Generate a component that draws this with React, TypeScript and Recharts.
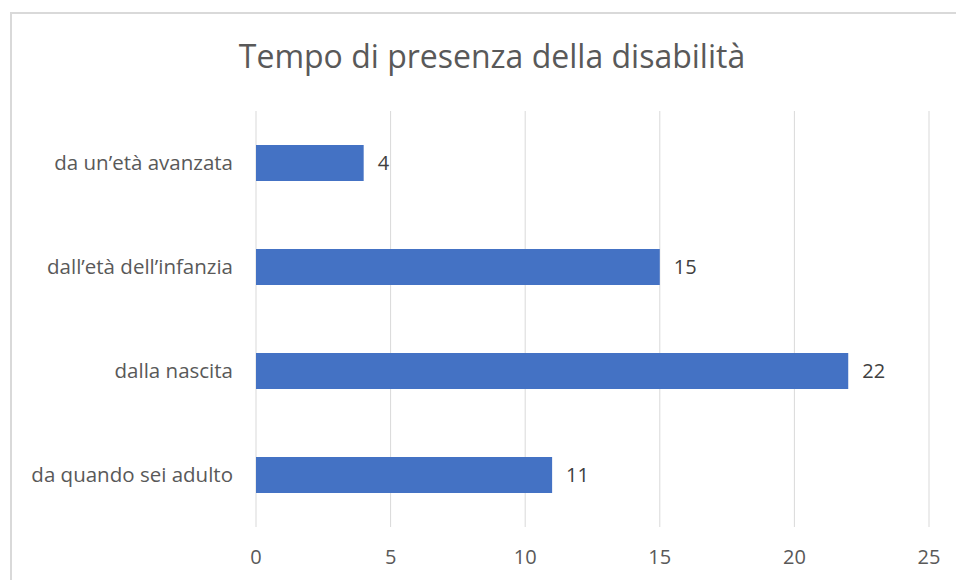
import { BarChart, Bar, XAxis, YAxis, CartesianGrid, LabelList } from "recharts";

const categories = [
  "da un’età avanzata",
  "dall’età dell’infanzia",
  "dalla nascita",
  "da quando sei adulto",
];
const values = [4, 15, 22, 11];
const xTicks = [0, 5, 10, 15, 20, 25];

const data = categories.map((name, i) => ({ name, value: values[i] }));

const FONT = "'Open Sans', sans-serif";

const App = () => {
  return (
    <div
      style={{
        position: "fixed",
        left: 0,
        top: 0,
        width: 956,
        height: 580,
        overflow: "hidden",
        background: "#fff",
      }}
    >
      <div
        style={{
          position: "absolute",
          left: 10,
          top: 12,
          width: 964,
          height: 604,
          border: "2px solid #d9d9d9",
          boxSizing: "border-box",
          fontFamily: FONT,
        }}
      >
        <div
          style={{
            position: "absolute",
            left: 0,
            top: 20,
            width: 960,
            textAlign: "center",
            fontSize: 32,
            color: "#595959",
          }}
        >
          Tempo di presenza della disabilità
        </div>
        <BarChart
          width={960}
          height={600}
          data={data}
          layout="vertical"
          margin={{ top: 97, right: 43, bottom: 27, left: 0 }}
        >
          <CartesianGrid horizontal={false} stroke="#d9d9d9" />
          <XAxis
            type="number"
            domain={[0, 25]}
            ticks={xTicks}
            axisLine={false}
            tickLine={false}
            height={60}
            tickMargin={17}
            tick={{ fill: "#595959", fontSize: 20, fontFamily: FONT }}
          />
          <YAxis
            type="category"
            dataKey="name"
            width={244}
            axisLine={false}
            tickLine={false}
            tickMargin={17}
            tick={{ fill: "#595959", fontSize: 20.5, fontFamily: FONT }}
          />
          <Bar dataKey="value" fill="#4472c4" barSize={36} isAnimationActive={false}>
            <LabelList
              dataKey="value"
              position="right"
              offset={14}
              fill="#404040"
              fontSize={20}
              fontFamily={FONT}
            />
          </Bar>
        </BarChart>
      </div>
    </div>
  );
};

export default App;
